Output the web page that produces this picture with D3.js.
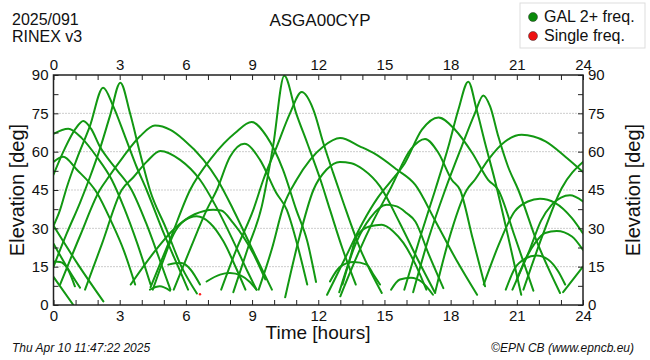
<!DOCTYPE html>
<html><head><meta charset="utf-8">
<script src="https://cdn.jsdelivr.net/npm/d3@7"></script>
<style>
html,body{margin:0;padding:0;background:#fff;}
svg{display:block;font-family:"Liberation Sans",Arial,sans-serif;}
</style></head>
<body><svg id="c" width="650" height="360"></svg>
<script>
// ---- data ----
const station = "ASGA00CYP";
const dayLabel = "2025/091";
const formatLabel = "RINEX v3";
const legendLabels = ["GAL 2+ freq.", "Single freq."];
const xTicksMajor = [0,3,6,9,12,15,18,21,24];
const yTicksMajor = [0,15,30,45,60,75,90];
const gridLevels = [15,30,45,60,75];
const footerLeft = "Thu Apr 10 11:47:22 2025";
const footerRight = "\u00A9EPN CB (www.epncb.eu)";

// satellite tracks: [time h, elevation deg]
const galTracks = [
 [[0,67],[0.67,69],[1.28,65.3],[1.96,58],[2.64,49],[3.2,38],[3.8,24],[4.4,8]],
 [[0,56],[0.44,58],[1.05,53],[1.96,44],[2.6,33],[3.2,21],[3.7,8]],
 [[0,51],[0.5,61],[1.0,69],[1.35,72],[1.7,69],[2.1,62],[2.86,53],[3.54,45],[4.2,32],[4.8,18],[5.3,6]],
 [[0,31],[0.29,37],[0.6,46],[1.05,57],[1.65,70],[2.25,85],[2.71,77.7],[3.24,66],[3.77,54],[4.22,45],[5.0,28],[5.7,14],[6.1,6]],
 [[0,15],[0.6,28],[1.2,40],[1.65,50],[2.1,61],[2.56,74],[3.03,87],[3.47,75],[3.92,59.5],[4.37,45],[5.1,30],[5.8,15],[6.5,4.5]],
 [[0,31],[1.1,16],[2.26,1.4]],
 [[0,24],[0.6,15],[1.2,6.8]],
 [[0,17],[0.3,16.8],[0.65,14],[0.97,7.3]],
 [[0,11],[0.9,0]],
 [[0.3,8],[1.2,27],[2.1,45],[2.41,49],[3.16,58],[3.92,66],[4.6,70.2],[5.3,68.5],[5.9,64.7],[6.8,56.8],[7.4,49.5],[8.15,37.3],[9.0,22],[9.9,6]],
 [[1.43,6],[2.2,24],[3.09,45],[3.62,50],[4.22,56],[4.84,60.3],[5.74,56.8],[6.64,49],[7.4,38],[8.15,25],[8.8,13],[9.2,6]],
 [[4.4,7],[5.3,26],[6.19,45],[7.2,58],[8.23,67.3],[8.98,71.6],[9.66,66],[10.4,53],[11.0,37.3],[11.5,25],[11.9,9]],
 [[5.45,6],[6.2,22],[6.95,37.3],[7.4,45],[8.0,58],[8.65,63.1],[9.36,56.8],[10.1,43.8],[10.57,37.3],[11.1,22],[11.5,8]],
 [[8.15,5],[8.8,22],[9.44,38.6],[9.95,62],[10.46,89.7],[11.0,75],[11.5,63.4],[12.1,49],[12.53,37.3],[13.1,22],[13.7,8]],
 [[7.6,6],[8.3,22],[9.06,37.3],[9.51,49],[10.12,62],[10.72,75],[11.25,83.3],[11.78,76.4],[12.23,63.4],[12.68,51.6],[13.14,40],[13.9,22],[14.88,4.7]],
 [[9.3,6],[9.9,22],[10.42,38.6],[11.02,49],[11.63,56.8],[12.23,62],[12.99,65.3],[13.9,62],[14.5,59.5],[15.56,53],[16.4,47],[17.3,33],[18.3,17],[19.2,4]],
 [[10.5,3],[11.1,25],[11.78,45],[12.38,53],[12.98,56],[13.5,55.5],[14.04,53],[14.8,46.4],[15.7,32],[16.5,18],[17.3,4.7]],
 [[5.2,15.8],[5.5,16.3],[5.8,16.4],[6.2,14],[6.64,8]],
 [[4.37,6],[4.82,7.3],[5.28,5.6]],
 [[4.5,6],[5.0,18],[5.43,27.5],[5.88,32.7],[6.49,34.7],[7.1,32],[7.7,24.9],[8.3,14],[8.7,6]],
 [[3.5,8],[4.5,20],[5.5,30],[6.4,35.5],[7.24,37.3],[7.6,37],[8.15,32],[9.06,20],[9.6,10]],
 [[6.94,9.2],[7.55,11.9],[8.0,12.5],[8.5,11.5],[8.9,9],[9.2,6]],
 [[12.53,9.2],[13.0,15],[13.6,16.8],[14.2,15.8],[14.5,11.9],[14.8,8]],
 [[15.3,6],[15.7,10],[16.2,10.7],[16.7,9],[17.2,4]],
 [[12.95,5],[13.75,25],[14.35,34],[15.1,39.2],[15.56,38.6],[16.0,36],[16.4,32.7],[17.0,20],[17.67,6.6]],
 [[13.1,8],[13.4,17],[13.75,27],[14.35,30.8],[14.88,31.4],[15.4,28.8],[15.86,24.3],[16.4,16],[16.9,6]],
 [[12.4,4],[13.2,18],[14.0,32],[14.7,42],[15.25,48],[15.93,55.6],[16.7,68.6],[17.45,73.4],[18.2,68.6],[18.98,59.5],[19.7,49],[20.16,45],[20.9,27],[21.75,5.6]],
 [[13.0,3.4],[13.8,20],[14.5,33],[15.3,46],[16.2,61],[16.84,65],[17.45,59.5],[18.05,49],[18.43,45],[19.0,26],[19.56,7.3]],
 [[15.9,6],[16.6,26],[17.3,45],[17.9,62],[18.35,76.4],[18.8,87.4],[19.18,76.4],[19.56,63.4],[20.0,49],[20.6,27],[21.2,4]],
 [[16.3,5],[17.0,26],[17.75,45],[18.5,62],[19.1,75],[19.48,82],[19.79,77.7],[20.16,66],[20.6,54.2],[21.07,45],[21.9,25],[22.96,4.7]],
 [[17.3,5],[17.9,25],[18.73,45],[19.1,49],[19.7,56.8],[20.47,64],[21.22,66.6],[22.3,64],[23.2,58],[24,52]],
 [[21.3,6],[22.2,28],[23.04,45.8],[24,56]],
 [[19.5,8],[20.2,24],[20.9,36.6],[21.5,40.5],[22.05,41.6],[22.73,40],[23.5,34],[24,28]],
 [[20.8,6],[21.6,22],[22.1,33],[22.58,39.2],[23.0,42],[23.41,42.9],[24,40.5]],
 [[21.0,10],[21.4,18],[21.83,24.3],[22.28,28.2],[22.81,29],[23.5,26.8],[24,21.5]],
 [[20.5,6],[20.92,14.5],[21.37,18.1],[21.9,19.4],[22.43,17.7],[22.88,13.1],[23.19,8]],
 [[23.1,5],[24,15]]
];
const singleFreqPoints = [[6.64,4.2]];

// ---- drawing ----
const svg = d3.select("#c");
const L = 53.5, R = 583, T = 75, B = 305;
const x = d3.scaleLinear().domain([0,24]).range([L,R]);
const y = d3.scaleLinear().domain([0,90]).range([B,T]);
const font = '"Liberation Sans",Arial,sans-serif';

// grid
svg.append("g").selectAll("line").data(gridLevels).join("line")
  .attr("x1",L).attr("x2",R).attr("y1",d=>y(d)).attr("y2",d=>y(d))
  .attr("stroke","#9a9a9a").attr("stroke-width",1).attr("stroke-dasharray","1,2");

// tracks
svg.append("clipPath").attr("id","pc").append("rect")
  .attr("x",L).attr("y",T-6).attr("width",R-L).attr("height",B-T+6);
const line = d3.line().x(d=>x(d[0])).y(d=>y(d[1])).curve(d3.curveMonotoneX);
svg.append("g").attr("clip-path","url(#pc)").selectAll("path").data(galTracks).join("path")
  .attr("d",line).attr("fill","none").attr("stroke","#129812").attr("stroke-width",2)
  .attr("stroke-linejoin","round").attr("stroke-linecap","round");
svg.append("g").selectAll("circle").data(singleFreqPoints).join("circle")
  .attr("cx",d=>x(d[0])).attr("cy",d=>y(d[1])).attr("r",1.2).attr("fill","#ff2020");

// axes
const hours = d3.range(0,25,1);
const eighth = d3.range(0,90.1,7.5);
const fmtX = d=> xTicksMajor.includes(d) ? String(d) : "";
const fmtY = d=> yTicksMajor.includes(d) ? String(d) : "";
function styleAxis(g){
  g.select(".domain").remove();
  g.selectAll("line").attr("stroke","#222").attr("stroke-width",1);
  g.selectAll("text").attr("font-family",font).attr("font-size",15).attr("fill","#111");
}
svg.append("g").attr("transform",`translate(0,${B})`)
  .call(d3.axisBottom(x).tickValues(hours).tickSize(-5).tickPadding(5).tickFormat(fmtX)).call(styleAxis);
svg.append("g").attr("transform",`translate(0,${T})`)
  .call(d3.axisTop(x).tickValues(hours).tickSize(-5).tickPadding(5).tickFormat(fmtX)).call(styleAxis);
svg.append("g").attr("transform",`translate(${L},0)`)
  .call(d3.axisLeft(y).tickValues(eighth).tickSize(-5).tickPadding(5).tickFormat(fmtY)).call(styleAxis);
svg.append("g").attr("transform",`translate(${R},0)`)
  .call(d3.axisRight(y).tickValues(eighth).tickSize(-5).tickPadding(5).tickFormat(fmtY)).call(styleAxis);

// frame
svg.append("rect").attr("x",L).attr("y",T).attr("width",R-L).attr("height",B-T)
  .attr("fill","none").attr("stroke","#222").attr("stroke-width",1.5);

// titles
const txt = (s,xx,yy,size,anchor,extra)=>{
  const t = svg.append("text").attr("x",xx).attr("y",yy).attr("font-family",font)
    .attr("font-size",size).attr("text-anchor",anchor||"start").attr("fill","#111").text(s);
  if(extra) extra(t);
  return t;
};
txt(dayLabel,12,25,16);
txt(formatLabel,12,42,16);
txt(station,320,26,17,"middle");
txt("Time [hours]",318,339,19,"middle");
txt("Elevation [deg]",0,0,20,"middle",t=>t.attr("transform",`translate(24,190) rotate(-90)`));
txt("Elevation [deg]",0,0,20,"middle",t=>t.attr("transform",`translate(640,190) rotate(-90)`));
txt(footerLeft,12,352,12,"start",t=>t.attr("font-style","italic"));
txt(footerRight,634,352,12,"end",t=>t.attr("font-style","italic"));

// legend
svg.append("rect").attr("x",520).attr("y",3).attr("width",125).attr("height",45)
  .attr("fill","#fff").attr("stroke","#ddd").attr("stroke-width",1);
const legColors = ["#0a8a0a","#ee1111"];
legendLabels.forEach((s,i)=>{
  svg.append("circle").attr("cx",533).attr("cy",17+i*19).attr("r",4.5).attr("fill",legColors[i])
    .attr("stroke","#333").attr("stroke-width",0.5);
  txt(s,544,22+i*19,16);
});
</script></body></html>
